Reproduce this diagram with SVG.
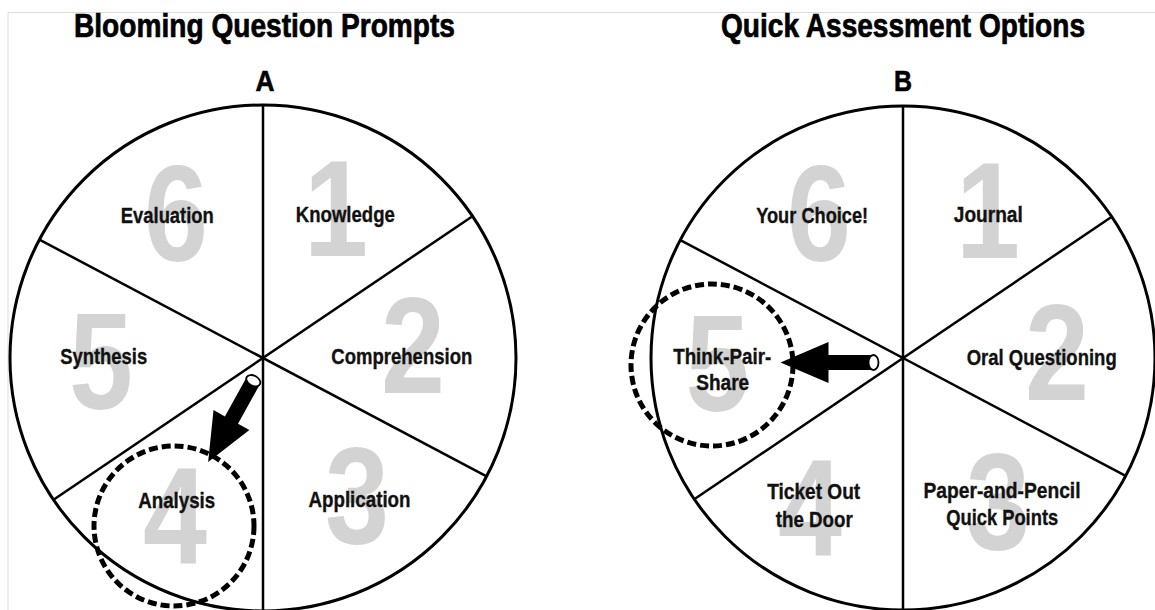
<svg xmlns="http://www.w3.org/2000/svg" width="1155" height="610" viewBox="0 0 1155 610">
  <style>
    .frame { stroke: #dcdcdc; stroke-width: 1; fill: none; }
    .title { font-family: "Liberation Sans", Arial, sans-serif; font-weight: bold; font-size: 33px; fill: #000; stroke: #000; stroke-width: 0.7; text-anchor: middle; }
    .letter { font-family: "Liberation Sans", Arial, sans-serif; font-weight: bold; font-size: 29px; fill: #000; stroke: #000; stroke-width: 0.6; text-anchor: middle; }
    .rim { fill: #fff; stroke: #000; stroke-width: 3; }
    .spoke { stroke: #000; stroke-width: 2.5; fill: none; }
    .num { font-family: "Liberation Sans", Arial, sans-serif; font-weight: bold; font-size: 137px; fill: #d3d3d3; text-anchor: middle; }
    .lbl { font-family: "Liberation Sans", Arial, sans-serif; font-weight: bold; font-size: 22px; fill: #111; stroke: #111; stroke-width: 0.35; text-anchor: middle; }
    .ring { fill: none; stroke: #000; stroke-width: 5; stroke-dasharray: 9 4; }
  </style>
  <defs>
    <!-- block arrow drawn from its tail (origin) towards +x -->
    <g id="pointer">
      <path d="M0,-7.5 L45,-7.5 L45,-20.5 L93,0 L45,20.5 L45,7.5 L0,7.5 Z" fill="#000"/>
      <ellipse cx="0" cy="0" rx="5" ry="7.5" fill="#fff" stroke="#000" stroke-width="1.8"/>
    </g>
  </defs>

  <rect width="1155" height="610" fill="#fff"/>
  <path class="frame" d="M8,610 V12.5 H1155"/>

  <!-- headings -->
  <text class="title" x="264.5" y="37" textLength="381" lengthAdjust="spacingAndGlyphs">Blooming Question Prompts</text>
  <text class="title" x="903" y="37" textLength="364" lengthAdjust="spacingAndGlyphs">Quick Assessment Options</text>
  <text class="letter" x="265" y="91" textLength="19" lengthAdjust="spacingAndGlyphs">A</text>
  <text class="letter" x="903" y="91" textLength="18" lengthAdjust="spacingAndGlyphs">B</text>

  <!-- wheel A -->
  <g id="wheel-a">
    <circle class="rim" cx="263" cy="358" r="253"/>
    <line class="spoke" x1="263" y1="105" x2="263" y2="610"/>
    <line class="spoke" x1="39.4" y1="239.6" x2="486.6" y2="476.4"/>
    <line class="spoke" x1="53.5" y1="499.8" x2="472.5" y2="216.2"/>
  </g>
  <g id="a-1">
    <text class="num" x="336" y="256" textLength="64" lengthAdjust="spacingAndGlyphs">1</text>
    <text class="lbl" x="345.3" y="222" textLength="99" lengthAdjust="spacingAndGlyphs">Knowledge</text>
  </g>
  <g id="a-2">
    <text class="num" x="413" y="393" textLength="64" lengthAdjust="spacingAndGlyphs">2</text>
    <text class="lbl" x="401.8" y="364" textLength="141" lengthAdjust="spacingAndGlyphs">Comprehension</text>
  </g>
  <g id="a-3">
    <text class="num" x="357" y="543" textLength="64" lengthAdjust="spacingAndGlyphs">3</text>
    <text class="lbl" x="359.5" y="507" textLength="102" lengthAdjust="spacingAndGlyphs">Application</text>
  </g>
  <g id="a-4">
    <text class="num" x="175" y="563" textLength="64" lengthAdjust="spacingAndGlyphs">4</text>
    <text class="lbl" x="176.7" y="508" textLength="77" lengthAdjust="spacingAndGlyphs">Analysis</text>
  </g>
  <g id="a-5">
    <text class="num" x="101" y="409" textLength="64" lengthAdjust="spacingAndGlyphs">5</text>
    <text class="lbl" x="103.7" y="364" textLength="87" lengthAdjust="spacingAndGlyphs">Synthesis</text>
  </g>
  <g id="a-6">
    <text class="num" x="176" y="261" textLength="64" lengthAdjust="spacingAndGlyphs">6</text>
    <text class="lbl" x="167.3" y="223" textLength="93" lengthAdjust="spacingAndGlyphs">Evaluation</text>
  </g>

  <!-- wheel B -->
  <g id="wheel-b">
    <circle class="rim" cx="903" cy="358" r="252"/>
    <line class="spoke" x1="903" y1="106" x2="903" y2="610"/>
    <line class="spoke" x1="679.4" y1="239.6" x2="1126.6" y2="476.4"/>
    <line class="spoke" x1="693.5" y1="499.8" x2="1112.5" y2="216.2"/>
  </g>
  <g id="b-1">
    <text class="num" x="988" y="258" textLength="64" lengthAdjust="spacingAndGlyphs">1</text>
    <text class="lbl" x="988.3" y="222" textLength="69" lengthAdjust="spacingAndGlyphs">Journal</text>
  </g>
  <g id="b-2">
    <text class="num" x="1057" y="400" textLength="64" lengthAdjust="spacingAndGlyphs">2</text>
    <text class="lbl" x="1041.7" y="365" textLength="150" lengthAdjust="spacingAndGlyphs">Oral Questioning</text>
  </g>
  <g id="b-3">
    <text class="num" x="998" y="549" textLength="64" lengthAdjust="spacingAndGlyphs">3</text>
    <text class="lbl" x="1002" y="498" textLength="157" lengthAdjust="spacingAndGlyphs">Paper-and-Pencil</text>
    <text class="lbl" x="1002.2" y="525" textLength="112" lengthAdjust="spacingAndGlyphs">Quick Points</text>
  </g>
  <g id="b-4">
    <text class="num" x="810" y="555" textLength="64" lengthAdjust="spacingAndGlyphs">4</text>
    <text class="lbl" x="813.7" y="499" textLength="93" lengthAdjust="spacingAndGlyphs">Ticket Out</text>
    <text class="lbl" x="814.3" y="526.5" textLength="77" lengthAdjust="spacingAndGlyphs">the Door</text>
  </g>
  <g id="b-5">
    <text class="num" x="717.5" y="411" textLength="64" lengthAdjust="spacingAndGlyphs">5</text>
    <text class="lbl" x="722.2" y="364" textLength="98" lengthAdjust="spacingAndGlyphs">Think-Pair-</text>
    <text class="lbl" x="722.7" y="390" textLength="53" lengthAdjust="spacingAndGlyphs">Share</text>
  </g>
  <g id="b-6">
    <text class="num" x="819" y="261" textLength="64" lengthAdjust="spacingAndGlyphs">6</text>
    <text class="lbl" x="812.2" y="222.7" textLength="112" lengthAdjust="spacingAndGlyphs">Your Choice!</text>
  </g>

  <!-- pointers and highlight rings -->
  <g id="connectors">
    <circle class="ring" cx="174" cy="526" r="80"/>
    <use href="#pointer" transform="translate(253.3,380.7) rotate(119.05)"/>
    <circle class="ring" cx="712" cy="365" r="81"/>
    <use href="#pointer" transform="translate(873.5,362.5) rotate(180)"/>
  </g>
</svg>
